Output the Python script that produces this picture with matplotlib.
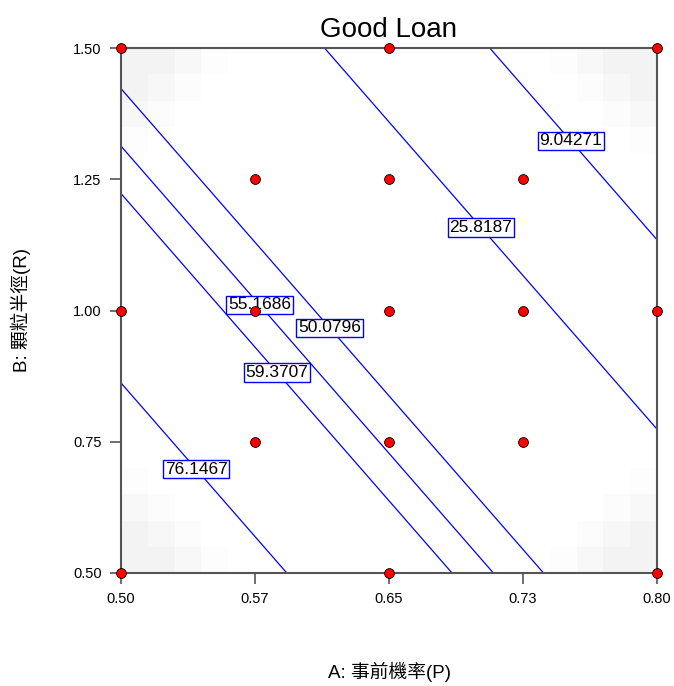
import numpy as np
import matplotlib
matplotlib.use("Agg")
import matplotlib.pyplot as plt

plt.rcParams['font.family'] = ['Liberation Sans', 'Noto Sans CJK TC', 'DejaVu Sans']

# Fitted (linear) response model
coef_const = 206.93
coef_A = -181.4
coef_B = -46.5

levels = [9.04271, 25.8187, 50.0796, 55.1686, 59.3707, 76.1467]
label_pos_A = [0.7547, 0.7049, 0.6198, 0.5806, 0.5901, 0.5442]
label_pos_B = [1.332, 1.1686, 0.976, 1.02, 0.8905, 0.7038]

# Design points
design_A = [0.5, 0.5, 0.5, 0.575, 0.575, 0.575, 0.65, 0.65, 0.65, 0.65, 0.65,
            0.725, 0.725, 0.725, 0.8, 0.8, 0.8]
design_B = [0.5, 1.0, 1.5, 0.75, 1.0, 1.25, 0.5, 0.75, 1.0, 1.25, 1.5,
            0.75, 1.0, 1.25, 0.5, 1.0, 1.5]

xticks = [0.5, 0.575, 0.65, 0.725, 0.8]
xtick_labels = ['0.50', '0.57', '0.65', '0.73', '0.80']
yticks = [0.5, 0.75, 1.0, 1.25, 1.5]
ytick_labels = ['0.50', '0.75', '1.00', '1.25', '1.50']

# faint corner shading (grey level of the cells nearest a corner)
corner_shade = [[0.95, 0.957, 0.972, 0.99],
                [0.957, 0.968, 0.985, 1.0],
                [0.972, 0.985, 1.0, 1.0],
                [0.99, 1.0, 1.0, 1.0]]

fig = plt.figure(figsize=(6.74, 6.86), dpi=100)
ax = fig.add_axes([121/674, 1-573/686, 536/674, 525/686])

# shading
n = 20
shade = np.ones((n, n))
cs_arr = np.array(corner_shade)
k = cs_arr.shape[0]
shade[:k, :k] = np.minimum(shade[:k, :k], cs_arr)
shade[:k, -k:] = np.minimum(shade[:k, -k:], cs_arr[:, ::-1])
shade[-k:, :k] = np.minimum(shade[-k:, :k], cs_arr[::-1, :])
shade[-k:, -k:] = np.minimum(shade[-k:, -k:], cs_arr[::-1, ::-1])
ax.imshow(shade, cmap='gray', vmin=0, vmax=1, extent=[0.5, 0.8, 0.5, 1.5],
          origin='lower', aspect='auto', interpolation='nearest', zorder=0)

gA = np.linspace(0.5, 0.8, 201)
gB = np.linspace(0.5, 1.5, 201)
AA, BB = np.meshgrid(gA, gB)
ZZ = coef_const + coef_A * AA + coef_B * BB

cs = ax.contour(AA, BB, ZZ, levels=levels, colors='#0000ff', linewidths=0.9, zorder=2)
labels = ax.clabel(cs, inline=False, fmt='%g', fontsize=12.5, colors='black',
                   manual=list(zip(label_pos_A, label_pos_B)))
for t in labels:
    t.set_rotation(0)
    t.set_bbox(dict(boxstyle='square,pad=0.1', facecolor='white', edgecolor='#0000ff', linewidth=1.0))
    t.set_zorder(4)

ax.scatter(design_A, design_B, s=50, c='#ff0000', edgecolors='black', linewidths=0.6,
           zorder=5, clip_on=False)

ax.set_xlim(0.5, 0.8)
ax.set_ylim(0.5, 1.5)
ax.set_xticks(xticks)
ax.set_xticklabels(xtick_labels)
ax.set_yticks(yticks)
ax.set_yticklabels(ytick_labels)
ax.tick_params(direction='out', length=8, width=1.2, color='#555555', labelsize=10.5, pad=6)
for sp in ax.spines.values():
    sp.set_color('#555555')
    sp.set_linewidth(1.5)

ax.set_title('Good Loan', fontsize=20, pad=8)
ax.set_xlabel('A: 事前機率(P)', fontsize=13.5, labelpad=40)
ax.set_ylabel('B: 顆粒半徑(R)', fontsize=13.5, labelpad=30)

fig.savefig('out.png', dpi=100)
